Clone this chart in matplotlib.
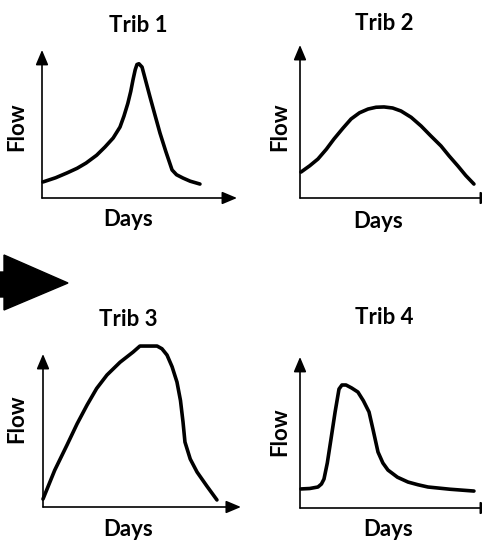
import matplotlib
matplotlib.use('Agg')
import matplotlib.pyplot as plt
import matplotlib.patches as patches

# chart values (Days and Flow in arbitrary 0-10 units)
titles = ['Trib 1', 'Trib 2', 'Trib 3', 'Trib 4']
x_label = 'Days'
y_label = 'Flow'

trib1_days = [0.05, 0.7, 1.28, 1.8, 2.26, 2.8, 3.23, 3.65, 4.0, 4.2, 4.4,
              4.55, 4.67, 4.78, 4.87, 4.97, 5.13, 5.3, 5.54, 5.8, 6.05, 6.35,
              6.67, 6.9, 7.23, 7.6, 8.1]
trib1_flow = [1.07, 1.35, 1.67, 1.98, 2.33, 2.85, 3.4, 4.0, 4.73, 5.45, 6.3,
              7.1, 7.9, 8.55, 8.9, 8.95, 8.73, 7.9, 6.73, 5.5, 4.33, 3.1,
              1.87, 1.55, 1.33, 1.12, 0.93]

trib2_days = [0.05, 0.5, 0.92, 1.35, 1.74, 2.2, 2.62, 3.05, 3.49, 3.9, 4.31,
              4.75, 5.18, 5.7, 6.21, 6.7, 7.23, 7.65, 8.1, 8.5, 8.92]
trib2_flow = [1.73, 2.15, 2.6, 3.25, 3.93, 4.65, 5.27, 5.68, 5.93, 6.05, 6.07,
              6.0, 5.8, 5.38, 4.8, 4.15, 3.47, 2.8, 2.13, 1.5, 0.93]

trib3_days = [0.0, 0.6, 1.23, 1.75, 2.26, 2.75, 3.28, 3.95, 4.62, 4.97, 5.4,
              5.85, 6.1, 6.36, 6.62, 6.87, 7.05, 7.18, 7.28, 7.55, 7.9, 8.4,
              8.92]
trib3_flow = [0.53, 2.45, 4.13, 5.55, 6.8, 7.9, 8.8, 9.65, 10.33, 10.73,
              10.73, 10.73, 10.55, 10.13, 9.35, 8.33, 7.1, 5.67, 4.33, 3.2,
              2.33, 1.4, 0.47]

trib4_days = [0.05, 0.5, 0.92, 1.1, 1.23, 1.4, 1.59, 1.8, 2.0, 2.15, 2.36,
              2.65, 2.97, 3.25, 3.54, 3.75, 4.0, 4.25, 4.51, 5.0, 5.54, 6.05,
              6.56, 7.7, 8.92]
trib4_flow = [1.27, 1.3, 1.4, 1.6, 1.93, 3.0, 4.6, 6.4, 7.93, 8.2, 8.2, 8.0,
              7.73, 7.15, 6.4, 5.2, 3.73, 3.0, 2.53, 2.05, 1.73, 1.55, 1.4,
              1.25, 1.13]

series = [(trib1_days, trib1_flow), (trib2_days, trib2_flow),
          (trib3_days, trib3_flow), (trib4_days, trib4_flow)]

# layout in pixels of the 482x544 picture
W, H = 482, 544
origins = [(42, 198), (300, 198), (43, 507), (300, 508)]
axis_w, axis_h = 195, 150
y_tips = [9.87, 10.2, 10.2, 10.07]
x_tips = [10.0, 10.0, 10.15, 10.0]
title_pos = [(138, 25), (384, 23), (128, 319), (384, 317)]
xlabel_pos = [(128, 220), (378, 221), (128, 529), (388, 529)]
ylabel_pos = [(17, 127), (280, 127), (17, 419), (280, 432)]

FONT = dict(family='Lato', fontweight='bold', fontsize=16, color='black')


def fx(px):
    return px / W


def fy(py):
    return 1 - py / H


fig = plt.figure(figsize=(W / 100, H / 100), dpi=100)
fig.patch.set_facecolor('white')

for i, (days, flow) in enumerate(series):
    x0, y0 = origins[i]
    ax = fig.add_axes([fx(x0), fy(y0), axis_w / W, axis_h / H])
    ax.set_xlim(0, 10)
    ax.set_ylim(0, 10)
    ax.axis('off')

    arrow = dict(arrowstyle='-|>,head_length=0.9,head_width=0.38',
                 color='black', lw=1.2, shrinkA=0, shrinkB=0,
                 mutation_scale=10)
    ax.annotate('', xy=(x_tips[i], 0), xytext=(0, 0),
                arrowprops=arrow, annotation_clip=False)
    ax.annotate('', xy=(0, y_tips[i]), xytext=(0, 0),
                arrowprops=arrow, annotation_clip=False)

    ax.plot(days, flow, color='black', lw=2.6, solid_joinstyle='round',
            solid_capstyle='round', clip_on=False)

    fig.text(fx(title_pos[i][0]), fy(title_pos[i][1]), titles[i],
             ha='center', va='center', **FONT)
    fig.text(fx(xlabel_pos[i][0]), fy(xlabel_pos[i][1]), x_label,
             ha='center', va='center', **FONT)
    fig.text(fx(ylabel_pos[i][0]), fy(ylabel_pos[i][1]), y_label,
             ha='center', va='center', rotation=90, **FONT)

# big black arrow on the left edge
big_arrow = [(0, 272), (4, 272), (4, 255), (68, 283), (4, 310),
             (4, 297), (0, 297)]
fig.patches.append(patches.Polygon(
    [(fx(px), fy(py)) for px, py in big_arrow],
    closed=True, facecolor='black', edgecolor='black',
    transform=fig.transFigure, figure=fig))

fig.savefig('out.png', dpi=100, facecolor='white')
plt.close(fig)
